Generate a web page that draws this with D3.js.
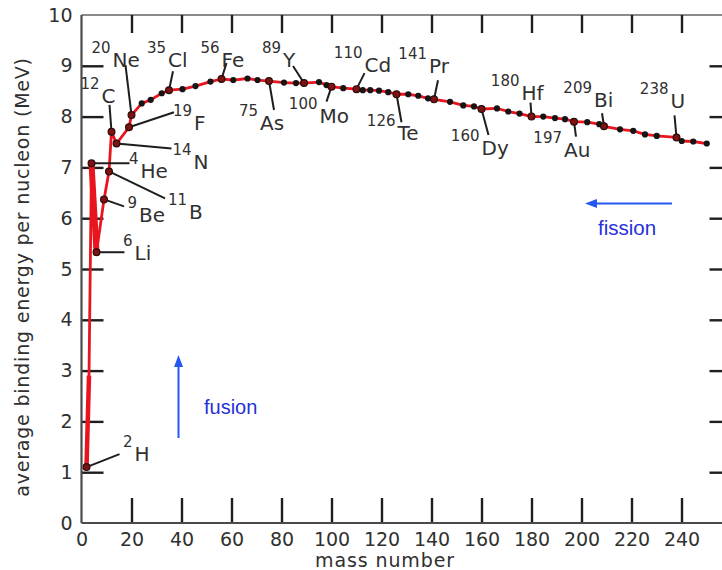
<!DOCTYPE html>
<html>
<head>
<meta charset="utf-8">
<script src="https://cdn.jsdelivr.net/npm/d3@7"></script>
<style>
  html, body { margin: 0; padding: 0; background: #fff; }
  svg { display: block; }
</style>
</head>
<body>
<svg id="chart" width="722" height="570"></svg>
<script>
// ---- data ---------------------------------------------------------------
// Named nuclides (mass number, symbol, binding energy per nucleon in MeV)
const labelMass   = [2, 4, 6, 9, 11, 12, 14, 19, 20, 35, 56, 75, 89, 100, 110, 126, 141, 160, 180, 197, 209, 238];
const labelSymbol = ["H", "He", "Li", "Be", "B", "C", "N", "F", "Ne", "Cl", "Fe", "As", "Y", "Mo", "Cd", "Te", "Pr", "Dy", "Hf", "Au", "Bi", "U"];
const labelEnergy = [1.10, 7.08, 5.33, 6.37, 6.92, 7.70, 7.47, 7.79, 8.03, 8.52, 8.74, 8.70, 8.66, 8.59, 8.54, 8.44, 8.34, 8.15, 8.00, 7.90, 7.81, 7.59];

// Other nuclides along the curve
const otherMass   = [3, 24.1, 27.7, 32.1, 40.4, 45.6, 51.6, 60.7, 66.4, 70.4, 81.0, 85.8, 95.0, 98.0, 104.7,
                     112.5, 115.5, 119.0, 122.7, 130.7, 134.7, 138.6, 147.4, 152.7, 157.0, 166.2, 170.7, 175.2,
                     184.7, 189.4, 193.4, 202.3, 207.1, 215.4, 220.7, 225.4, 230.1, 240.1, 244.7, 250.1];
const otherEnergy = [2.9, 8.26, 8.33, 8.46, 8.54, 8.60, 8.69, 8.72, 8.75, 8.72, 8.67, 8.66, 8.68, 8.62, 8.56,
                     8.52, 8.52, 8.51, 8.48, 8.44, 8.41, 8.36, 8.29, 8.22, 8.20, 8.16, 8.10, 8.06,
                     8.00, 7.97, 7.95, 7.89, 7.85, 7.75, 7.72, 7.65, 7.62, 7.52, 7.51, 7.47];

const xTicks = [0, 20, 40, 60, 80, 100, 120, 140, 160, 180, 200, 220, 240];
const yTicks = [0, 1, 2, 3, 4, 5, 6, 7, 8, 9, 10];

const xTitle = "mass number";
const yTitle = "average binding energy per nucleon (MeV)";

// ---- layout -------------------------------------------------------------
const svg = d3.select("#chart");
const x = d3.scaleLinear().domain([0, 260]).range([81.5, 731.5]);
const y = d3.scaleLinear().domain([0, 10]).range([523, 15]);

const INK = "#1e1e1e";
const TEXT = "#303030";
const AXIS = "#4a4a4a";
const RED = "#e8141e";
const BLUE_LINE = "#2458f0";
const BLUE_TEXT = "#2630d8";
const TICK_FONT = "'DejaVu Sans', sans-serif";

// Label placement: leader end (lx, ly) and symbol anchor (sx, sy), in px relative to the marker
const labelLayout = {
  H:  { lx: 33,  ly: -13, sx: 48,  sy: -6 },
  He: { lx: 38,  ly: 0,   sx: 49,  sy: 15 },
  Li: { lx: 28,  ly: 0,   sx: 38,  sy: 8 },
  Be: { lx: 20,  ly: 7,   sx: 35,  sy: 23 },
  B:  { lx: 56,  ly: 27,  sx: 80,  sy: 48 },
  C:  { lx: -2,  ly: -27, sx: -10, sy: -29 },
  N:  { lx: 55,  ly: 5,   sx: 77,  sy: 25 },
  F:  { lx: 45,  ly: -15, sx: 65,  sy: 3 },
  Ne: { lx: -6,  ly: -50, sx: -19, sy: -48 },
  Cl: { lx: 4,   ly: -19, sx: -1,  sy: -23 },
  Fe: { lx: 5,   ly: -16, sx: 0,   sy: -12 },
  As: { lx: 5,   ly: 29,  sx: -9,  sy: 49 },
  Y:  { lx: -11, ly: -17, sx: -21, sy: -16 },
  Mo: { lx: -5,  ly: 15,  sx: -12, sy: 36 },
  Cd: { lx: 8,   ly: -16, sx: 8,   sy: -17 },
  Te: { lx: 5,   ly: 28,  sx: 1,   sy: 46 },
  Pr: { lx: 4,   ly: -19, sx: -5,  sy: -26 },
  Dy: { lx: 7,   ly: 26,  sx: 0,   sy: 46 },
  Hf: { lx: -1,  ly: -14, sx: -10, sy: -17 },
  Au: { lx: 2,   ly: 15,  sx: -10, sy: 35 },
  Bi: { lx: -2,  ly: -13, sx: -10, sy: -19 },
  U:  { lx: -2,  ly: -22, sx: -6,  sy: -29 }
};

// ---- frame and axes -----------------------------------------------------
// top frame
svg.append("line")
  .attr("x1", x(0)).attr("x2", x(260)).attr("y1", y(10)).attr("y2", y(10))
  .attr("stroke", "#8a8a8a").attr("stroke-width", 2);
// right frame (beyond the visible area)
svg.append("line")
  .attr("x1", x(260)).attr("x2", x(260)).attr("y1", y(10)).attr("y2", y(0))
  .attr("stroke", AXIS).attr("stroke-width", 2);

function styleAxis(g) {
  g.select(".domain").remove();
  g.selectAll(".tick line").attr("stroke", INK).attr("stroke-width", 2.4);
  g.selectAll(".tick text")
    .attr("fill", TEXT)
    .style("font-family", TICK_FONT)
    .style("font-size", "19px");
}

// bottom axis, ticks pointing inward
const gx = svg.append("g")
  .attr("transform", `translate(0,${y(0)})`)
  .call(d3.axisBottom(x).tickValues(xTicks).tickSize(-25).tickPadding(10).tickFormat(d3.format("d")))
  .call(styleAxis);
gx.selectAll(".tick").filter(d => d === 0).select("line").remove();

// left axis
const gy = svg.append("g")
  .attr("transform", `translate(${x(0)},0)`)
  .call(d3.axisLeft(y).tickValues(yTicks).tickSize(-22).tickPadding(9).tickFormat(d3.format("d")))
  .call(styleAxis);
gy.selectAll(".tick").filter(d => d === 0 || d === 10).select("line").remove();

// top ticks
svg.append("g")
  .attr("transform", `translate(0,${y(10)})`)
  .call(d3.axisTop(x).tickValues(xTicks.filter(d => d > 0)).tickSize(-18).tickFormat(""))
  .call(styleAxis);

// right ticks
svg.append("g")
  .attr("transform", `translate(${x(260)},0)`)
  .call(d3.axisRight(y).tickValues(yTicks.filter(d => d > 0 && d < 10)).tickSize(-22).tickFormat(""))
  .call(styleAxis);

// axis lines
svg.append("line")
  .attr("x1", x(0)).attr("x2", x(0)).attr("y1", y(10)).attr("y2", y(0))
  .attr("stroke", AXIS).attr("stroke-width", 2.2);
svg.append("line")
  .attr("x1", x(0)).attr("x2", x(260)).attr("y1", y(0)).attr("y2", y(0))
  .attr("stroke", AXIS).attr("stroke-width", 2.2);

// axis titles
svg.append("text")
  .attr("x", 385).attr("y", 567)
  .attr("text-anchor", "middle")
  .attr("fill", TEXT)
  .style("font-family", TICK_FONT).style("font-size", "19px").style("letter-spacing", "0.9px")
  .text(xTitle);

svg.append("text")
  .attr("transform", "translate(29,277) rotate(-90)")
  .attr("text-anchor", "middle")
  .attr("fill", TEXT)
  .style("font-family", TICK_FONT).style("font-size", "19px").style("letter-spacing", "0.8px")
  .text(yTitle);

// ---- curve --------------------------------------------------------------
const named = labelMass.map((m, i) => ({ A: m, E: labelEnergy[i], sym: labelSymbol[i] }));
const others = otherMass.map((m, i) => ({ A: m, E: otherEnergy[i], sym: null }));
const all = named.concat(others).sort((a, b) => a.A - b.A);

const line = d3.line().x(d => x(d.A)).y(d => y(d.E));

svg.append("path")
  .attr("d", line(all))
  .attr("fill", "none").attr("stroke", RED).attr("stroke-width", 2.8)
  .attr("stroke-linejoin", "round");

// heavier strokes for the light-nucleus steps (2H -> 3H and 4He -> 6Li)
const idx = sym => all.findIndex(d => d.sym === sym);
svg.append("path")
  .attr("d", line(all.slice(idx("H"), idx("H") + 2)))
  .attr("fill", "none").attr("stroke", RED).attr("stroke-width", 4.5);
svg.append("path")
  .attr("d", line(all.slice(idx("He"), idx("Li") + 1)))
  .attr("fill", "none").attr("stroke", RED).attr("stroke-width", 6);

// leaders
named.forEach(d => {
  const L = labelLayout[d.sym];
  svg.append("line")
    .attr("x1", x(d.A)).attr("y1", y(d.E))
    .attr("x2", x(d.A) + L.lx).attr("y2", y(d.E) + L.ly)
    .attr("stroke", INK).attr("stroke-width", 2);
});

// unnamed nuclide dots
svg.append("g").selectAll("circle")
  .data(others.filter(d => d.A > 20))
  .join("circle")
  .attr("cx", d => x(d.A)).attr("cy", d => y(d.E)).attr("r", 3.1)
  .attr("fill", "#151515");

// named nuclide markers
svg.append("g").selectAll("circle")
  .data(named)
  .join("circle")
  .attr("cx", d => x(d.A)).attr("cy", d => y(d.E)).attr("r", 3.4)
  .attr("fill", "#7e1212").attr("stroke", "#2a0a0a").attr("stroke-width", 1.2);

// nuclide labels: superscript mass number + element symbol
named.forEach(d => {
  const L = labelLayout[d.sym];
  const sx = x(d.A) + L.sx, sy = y(d.E) + L.sy;
  svg.append("text")
    .attr("x", sx).attr("y", sy)
    .attr("fill", TEXT)
    .style("font-family", TICK_FONT).style("font-size", "20px")
    .text(d.sym);
  svg.append("text")
    .attr("x", sx - 2).attr("y", sy - 14)
    .attr("text-anchor", "end")
    .attr("fill", TEXT)
    .style("font-family", TICK_FONT).style("font-size", "15px")
    .text(d.A);
});

// ---- fusion / fission arrows -------------------------------------------
function arrow(x1, y1, x2, y2) {
  const ang = Math.atan2(y2 - y1, x2 - x1);
  const len = 12, half = 4.5;
  const bx = x2 - len * Math.cos(ang), by = y2 - len * Math.sin(ang);
  svg.append("line")
    .attr("x1", x1).attr("y1", y1).attr("x2", bx).attr("y2", by)
    .attr("stroke", BLUE_LINE).attr("stroke-width", 2);
  svg.append("path")
    .attr("d", `M${x2},${y2} L${bx - half * Math.sin(ang)},${by + half * Math.cos(ang)} L${bx + half * Math.sin(ang)},${by - half * Math.cos(ang)} Z`)
    .attr("fill", BLUE_LINE);
}

arrow(178.5, 438, 178.5, 355);
svg.append("text")
  .attr("x", 204).attr("y", 414)
  .attr("fill", BLUE_TEXT)
  .style("font-family", "'Liberation Sans', Arial, sans-serif").style("font-size", "20px")
  .text("fusion");

arrow(672, 203.5, 585, 203.5);
svg.append("text")
  .attr("x", 598).attr("y", 235)
  .attr("fill", BLUE_TEXT)
  .style("font-family", "'Liberation Sans', Arial, sans-serif").style("font-size", "20.5px")
  .text("fission");
</script>
</body>
</html>
